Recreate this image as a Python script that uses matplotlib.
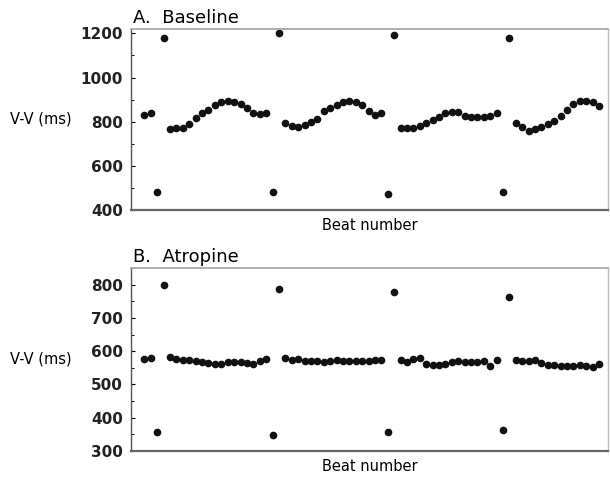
import matplotlib

matplotlib.use("Agg")
import matplotlib.pyplot as plt
import numpy as np
from matplotlib.ticker import MultipleLocator

plt.rcParams["font.family"] = ["DejaVu Sans"]

# V-V intervals (ms), one value per beat
baseline_vv = [
    830, 838, 481, 1178,
    765, 770, 772, 790, 815, 840, 855, 875, 890, 893, 888, 880, 860, 838, 835, 840,
    482, 1202,
    793, 780, 778, 785, 800, 812, 850, 862, 877, 888, 892, 888, 874, 850, 830, 840,
    473, 1192,
    772, 770, 772, 780, 793, 808, 823, 840, 845, 846, 828, 823, 823, 823, 828, 840,
    481, 1181,
    793, 778, 760, 765, 775, 790, 805, 825, 855, 880, 892, 895, 888, 872,
]
atropine_vv = [
    575, 580, 357, 800,
    583, 577, 574, 572, 571, 568, 565, 561, 562, 566, 568, 566, 564, 561, 570, 576,
    347, 787,
    579, 574, 576, 571, 569, 571, 567, 571, 573, 571, 569, 569, 569, 571, 572, 572,
    357, 777,
    574, 568, 576, 578, 560, 559, 559, 562, 566, 569, 567, 567, 567, 569, 556, 572,
    362, 763,
    574, 569, 571, 572, 565, 559, 557, 556, 556, 556, 557, 555, 553, 562,
]

panel_titles = ["A.  Baseline", "B.  Atropine"]
y_limits = [(400, 1220), (300, 850)]
y_major = [200, 100]
y_minor = [100, 50]


def style_axis(axis, title, ylim, major, minor):
    axis.set_ylim(*ylim)
    axis.set_xlim(-2.1, 72.4)
    axis.yaxis.set_major_locator(MultipleLocator(major))
    axis.yaxis.set_minor_locator(MultipleLocator(minor))
    axis.set_xticks([])
    axis.tick_params(axis="y", which="major", direction="in", length=3,
                     width=0.8, pad=6, labelsize=11, labelcolor="#222222")
    axis.tick_params(axis="y", which="minor", direction="in", length=2,
                     width=0.7)
    for label in axis.get_yticklabels():
        label.set_fontweight("bold")
    axis.spines["left"].set_color("#555555")
    axis.spines["left"].set_linewidth(1.0)
    axis.spines["bottom"].set_color("#666666")
    axis.spines["bottom"].set_linewidth(1.6)
    axis.spines["top"].set_color("#aaaaaa")
    axis.spines["top"].set_linewidth(1.3)
    axis.spines["right"].set_color("#bbbbbb")
    axis.spines["right"].set_linewidth(1.0)
    axis.set_title(title, loc="left", fontsize=13, pad=4, x=0.004)
    axis.set_xlabel("Beat number", fontsize=10.5, labelpad=6)
    axis.text(-0.2537, 0.5, "V-V (ms)", transform=axis.transAxes,
              ha="left", va="center", fontsize=10.5)


figure = plt.figure(figsize=(6.10, 4.79), dpi=100)
ax_a = figure.add_axes([0.2148, 0.5616, 0.7819, 0.3779])
ax_b = figure.add_axes([0.2148, 0.0585, 0.7819, 0.3820])

for axis, values, title, ylim, major, minor in zip(
    (ax_a, ax_b), (baseline_vv, atropine_vv), panel_titles, y_limits,
    y_major, y_minor,
):
    beats = np.arange(len(values))
    axis.plot(beats, values, linestyle="none", marker="o", markersize=4.5,
              color="#111111")
    style_axis(axis, title, ylim, major, minor)

figure.savefig("out.png", dpi=100)
plt.close(figure)
